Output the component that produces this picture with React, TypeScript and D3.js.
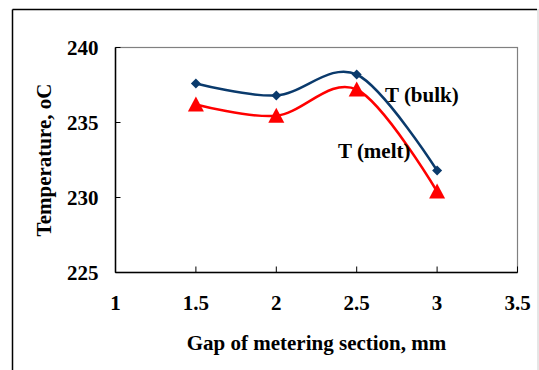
import React from 'react';
import * as d3 from 'd3';

// data
const gaps = [1.5, 2, 2.5, 3];
const tBulk = [237.6, 236.8, 238.2, 231.8];
const tMelt = [236.2, 235.45, 237.2, 230.4];
const xTicks = [1, 1.5, 2, 2.5, 3, 3.5];
const yTicks = [225, 230, 235, 240];

const W = 539;
const H = 370;
const left = 115.5, right = 517.5, top = 47.5, bottom = 272.5;
const font = 'Liberation Serif, Times New Roman, Times, serif';
const navy = '#0a3a6c';
const red = '#ff0000';

export default function App() {
  const x = d3.scaleLinear().domain([1, 3.5]).range([left, right]);
  const y = d3.scaleLinear().domain([225, 240]).range([bottom, top]);

  const line = d3.line<number>()
    .x((d, i) => x(gaps[i]))
    .y(d => y(d))
    .curve(d3.curveCardinal.tension(0));

  const diamond = d3.symbol().type(d3.symbolSquare).size(50)();

  const txt = {fontFamily: font, fontWeight: 'bold' as const, fontSize: 21};

  return (
    <svg width={W} height={H} style={{position: 'absolute', left: 0, top: 0, background: '#fff'}}>
      {/* outer frame */}
      <line x1={12.5} y1={9.5} x2={537} y2={9.5} stroke="#000" strokeWidth={1.5} />
      <line x1={12.5} y1={9.5} x2={12.5} y2={H} stroke="#000" strokeWidth={1.5} />
      <line x1={538} y1={9} x2={538} y2={H} stroke="#ccc" strokeWidth={1} />

      {/* plot area */}
      <rect x={left} y={top} width={right - left} height={bottom - top} fill="none" stroke="#808080" strokeWidth={1.2} />
      <line x1={left} y1={top} x2={left} y2={bottom} stroke="#000" strokeWidth={1.5} />
      <line x1={left} y1={bottom} x2={right} y2={bottom} stroke="#000" strokeWidth={1.5} />

      {xTicks.map(t => (
        <g key={'x' + t}>
          <line x1={x(t)} x2={x(t)} y1={bottom} y2={bottom - 6} stroke="#000" strokeWidth={1} />
          <text x={x(t)} y={310} textAnchor="middle" style={txt}>{t}</text>
        </g>
      ))}
      {yTicks.map(t => (
        <g key={'y' + t}>
          <line x1={left} x2={left + 5} y1={y(t)} y2={y(t)} stroke="#000" strokeWidth={1} />
          <text x={98.5} y={y(t) + 7} textAnchor="end" style={txt}>{t}</text>
        </g>
      ))}

      <text x={(left + right) / 2} y={350} textAnchor="middle" style={txt}>
        Gap of metering section, mm
      </text>
      <text transform={`translate(51,${(top + bottom) / 2}) rotate(-90)`} textAnchor="middle" style={txt}>
        Temperature, oC
      </text>

      <path d={line(tBulk) || ''} fill="none" stroke={navy} strokeWidth={2.5} />
      <path d={line(tMelt) || ''} fill="none" stroke={red} strokeWidth={2.5} />

      {tBulk.map((v, i) => (
        <path key={'b' + i} d={diamond || ''} transform={`translate(${x(gaps[i])},${y(v)}) rotate(45)`} fill={navy} />
      ))}
      {tMelt.map((v, i) => (
        <path key={'m' + i} d={`M0,-8L8,7L-8,7Z`} transform={`translate(${x(gaps[i])},${y(v)})`} fill={red} />
      ))}

      <text x={385} y={101.7} style={txt}>T (bulk)</text>
      <text x={338} y={158.3} style={txt}>T (melt)</text>
    </svg>
  );
}
